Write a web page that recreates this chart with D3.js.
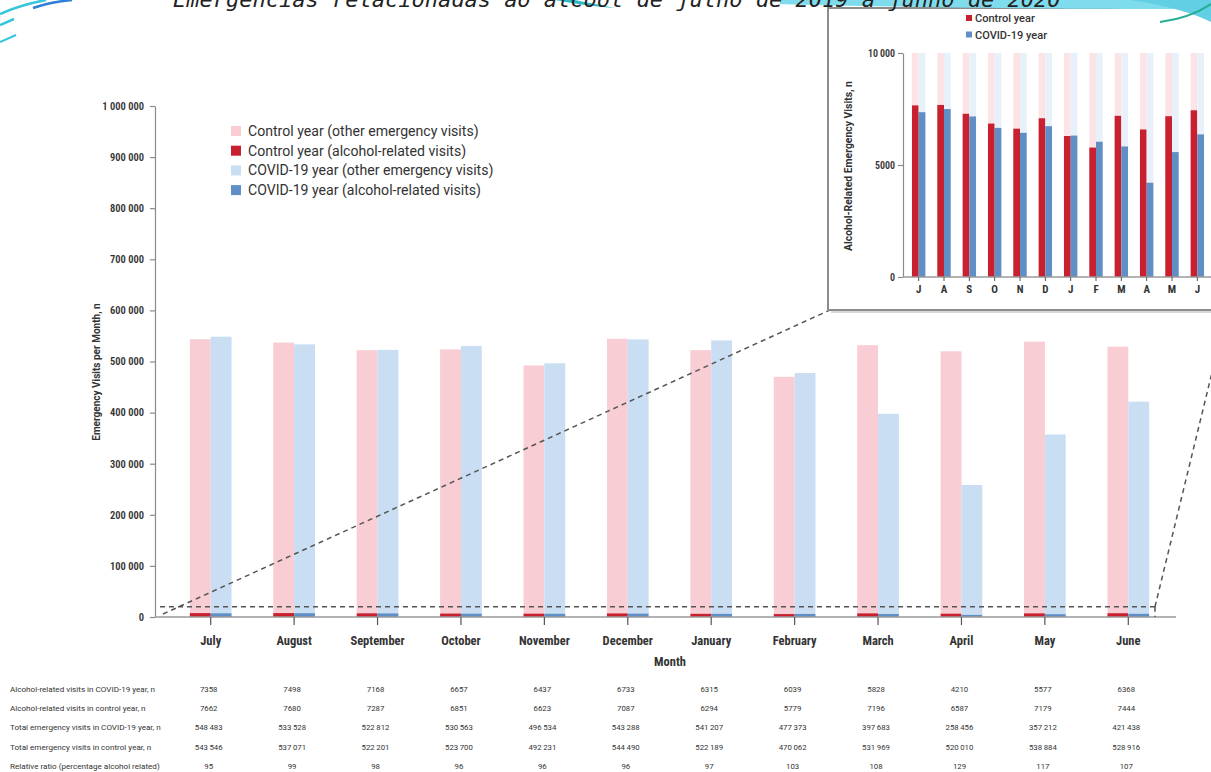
<!DOCTYPE html>
<html>
<head>
<meta charset="utf-8">
<script src="https://cdn.jsdelivr.net/npm/d3@7"></script>
<style>
  html, body { margin: 0; padding: 0; background: #fff; }
  svg { display: block; }
  .axis text { fill: #333; }
</style>
</head>
<body>
<svg width="1211" height="772"></svg>
<script>
// data
const months = ["July", "August", "September", "October", "November", "December",
    "January", "February", "March", "April", "May", "June"];
const monthLetters = ["J", "A", "S", "O", "N", "D", "J", "F", "M", "A", "M", "J"];

const alcoholCovid = [7358, 7498, 7168, 6657, 6437, 6733, 6315, 6039, 5828, 4210, 5577, 6368];
const alcoholControl = [7662, 7680, 7287, 6851, 6623, 7087, 6294, 5779, 7196, 6587, 7179, 7444];
const totalCovid = [548483, 533528, 522812, 530563, 496534, 543288, 541207, 477373, 397683, 258456, 357212, 421438];
const totalControl = [543546, 537071, 522201, 523700, 492231, 544490, 522189, 470062, 531969, 520010, 538884, 528916];
const relativeRatio = [95, 99, 98, 96, 96, 96, 97, 103, 108, 129, 117, 107];

const mainTicks = [0, 100000, 200000, 300000, 400000, 500000, 600000, 700000, 800000, 900000, 1000000];
const insetTicks = [0, 5000, 10000];

const legendItems = [
    { label: "Control year (other emergency visits)", color: "#f8cdd3" },
    { label: "Control year (alcohol-related visits)", color: "#c8202f" },
    { label: "COVID-19 year (other emergency visits)", color: "#c9def2" },
    { label: "COVID-19 year (alcohol-related visits)", color: "#5f8fc4" }
];
const tableRows = [
    { label: "Alcohol-related visits in COVID-19 year, n", values: alcoholCovid },
    { label: "Alcohol-related visits in control year, n", values: alcoholControl },
    { label: "Total emergency visits in COVID-19 year, n", values: totalCovid },
    { label: "Total emergency visits in control year, n", values: totalControl },
    { label: "Relative ratio (percentage alcohol related)", values: relativeRatio }
];

const colors = {
    controlOther: "#f8cdd3", controlAlc: "#c8202f",
    covidOther: "#c9def2", covidAlc: "#5f8fc4",
    insetControlOther: "#fbe3e6", insetCovidOther: "#e8f1fa"
};

const spaced = d3.formatLocale({ decimal: ".", thousands: "\u2009", grouping: [3], currency: ["", ""] }).format(",");
const fmt = v => v >= 10000 ? spaced(v) : String(v);
const axisFmt = d3.formatLocale({ decimal: ".", thousands: " ", grouping: [3], currency: ["", ""] }).format(",");

const svg = d3.select("svg");
const font = "'Liberation Sans Narrow', 'Roboto Condensed', Roboto, sans-serif";

// ---- slide decoration + title ----
const deco = svg.append("g");
deco.append("path").attr("d", "M0,14 Q20,5 46,0").attr("fill", "none").attr("stroke", "#35c6dc").attr("stroke-width", 2.5);
deco.append("path").attr("d", "M0,25 L14,19").attr("fill", "none").attr("stroke", "#35c6dc").attr("stroke-width", 2.5);
deco.append("path").attr("d", "M33,8 Q50,2 72,0").attr("fill", "none").attr("stroke", "#2f7fd6").attr("stroke-width", 2.5);
deco.append("path").attr("d", "M0,42 L16,35").attr("fill", "none").attr("stroke", "#35c6dc").attr("stroke-width", 2);
deco.append("path").attr("d", "M555,0 Q585,6 615,8 Q590,3 575,0 Z").attr("fill", "#2cb9c9");

const title = svg.append("text")
    .attr("x", 173).attr("y", 7)
    .style("font-family", "'DejaVu Sans Mono', monospace")
    .style("font-style", "italic")
    .style("font-size", "22px")
    .attr("fill", "#222")
    .text("Emergências relacionadas ao álcool de julho de 2019 a junho de 2020");

// ---- main chart ----
const y = d3.scaleLinear().domain([0, 1000000]).range([617, 106]);
const x = d3.scaleBand().domain(months).range([169, 1170]).paddingInner(0.5).paddingOuter(0.25);
const sub = d3.scaleBand().domain(["control", "covid"]).range([0, x.bandwidth()]);

const main = svg.append("g");

const barData = months.map((m, i) => ({
    month: m,
    control: { alc: alcoholControl[i], total: totalControl[i] },
    covid: { alc: alcoholCovid[i], total: totalCovid[i] }
}));

const groups = main.selectAll("g.month").data(barData).enter().append("g")
    .attr("class", "month")
    .attr("transform", d => `translate(${x(d.month)},0)`);

[["control", colors.controlOther, colors.controlAlc], ["covid", colors.covidOther, colors.covidAlc]]
    .forEach(([key, light, dark]) => {
        groups.append("rect")
            .attr("x", sub(key)).attr("width", sub.bandwidth())
            .attr("y", d => y(d[key].total))
            .attr("height", d => y(d[key].alc) - y(d[key].total))
            .attr("fill", light);
        groups.append("rect")
            .attr("x", sub(key)).attr("width", sub.bandwidth())
            .attr("y", d => y(d[key].alc))
            .attr("height", d => y(0) - y(d[key].alc))
            .attr("fill", dark);
    });

const yAxis = main.append("g").attr("class", "axis")
    .attr("transform", "translate(155,0)")
    .call(d3.axisLeft(y).tickValues(mainTicks).tickSize(5).tickSizeOuter(0).tickPadding(6)
        .tickFormat(v => axisFmt(v)));
yAxis.selectAll("path, line").attr("stroke", "#8a8a8a").attr("stroke-width", 1.2);
yAxis.selectAll("text").style("font-family", font).style("font-size", "10.5px").style("font-weight", "600");

main.append("line")
    .attr("x1", 155).attr("x2", 1176).attr("y1", y(0)).attr("y2", y(0))
    .attr("stroke", "#9a9a9a").attr("stroke-width", 1.6);

const xAxis = main.append("g").attr("class", "axis")
    .attr("transform", `translate(0,${y(0)})`)
    .call(d3.axisBottom(x).tickSize(8).tickSizeOuter(0).tickPadding(11));
xAxis.select(".domain").remove();
xAxis.selectAll("line").attr("stroke", "#555").attr("stroke-width", 1.2);
xAxis.selectAll("text").style("font-family", font).style("font-size", "12.5px").style("font-weight", "700");

main.append("text")
    .attr("x", 670).attr("y", 666).attr("text-anchor", "middle")
    .style("font-family", font).style("font-size", "12.5px").style("font-weight", "700")
    .attr("fill", "#333").text("Month");

main.append("text")
    .attr("transform", "translate(100,372) rotate(-90)")
    .attr("text-anchor", "middle")
    .style("font-family", "Roboto, sans-serif").style("font-size", "10px").style("font-weight", "700")
    .attr("fill", "#333").text("Emergency Visits per Month, n");

// legend
const legend = main.append("g").attr("transform", "translate(231,131)");
const li = legend.selectAll("g").data(legendItems).enter().append("g")
    .attr("transform", (d, i) => `translate(0,${i * 19.7})`);
li.append("rect").attr("x", 0).attr("y", -5).attr("width", 10).attr("height", 10).attr("fill", d => d.color);
li.append("text").attr("x", 17).attr("y", 5)
    .style("font-family", "Roboto, sans-serif").style("font-size", "14.1px")
    .attr("fill", "#333").text(d => d.label);

// zoom marker (dashed)
const dash = svg.append("g")
    .attr("fill", "none").attr("stroke", "#555").attr("stroke-width", 1.5).attr("stroke-dasharray", "5,4");
dash.append("line").attr("x1", 160).attr("x2", 1155).attr("y1", y(20000)).attr("y2", y(20000));
dash.append("line").attr("x1", 1155).attr("x2", 1155).attr("y1", y(20000)).attr("y2", y(0));
dash.append("line").attr("x1", 163).attr("y1", 614).attr("x2", 830).attr("y2", 310);
dash.append("line").attr("x1", 1155).attr("y1", y(20000)).attr("x2", 1217).attr("y2", 352);

// ---- table ----
const table = svg.append("g");
const rowsG = table.selectAll("g").data(tableRows).enter().append("g")
    .attr("transform", (d, i) => `translate(0,${692 + i * 19.2})`);
rowsG.append("text").attr("x", 10).attr("y", 0)
    .style("font-family", "Roboto, sans-serif").style("font-size", "8.1px")
    .attr("fill", "#333").text(d => d.label);
rowsG.selectAll("text.val").data(d => d.values).enter().append("text")
    .attr("class", "val")
    .attr("x", (v, i) => x(months[i]) + x.bandwidth() / 2 - 2)
    .attr("y", 0).attr("text-anchor", "middle")
    .style("font-family", "Roboto, sans-serif").style("font-size", "7.8px")
    .attr("fill", "#333").text(v => fmt(v));

// ---- inset ----
const inset = svg.append("g");
inset.append("rect").attr("x", 831).attr("y", 12).attr("width", 400).attr("height", 301).attr("fill", "#d8d8d8");
inset.append("rect")
    .attr("x", 828).attr("y", 8).attr("width", 400).attr("height", 302)
    .attr("fill", "#fff").attr("stroke", "#8c8c8c").attr("stroke-width", 2);

const xi = d3.scaleBand().domain(d3.range(12)).range([906, 1210]).paddingInner(0.47).paddingOuter(0.235);
const subi = d3.scaleBand().domain(["control", "covid"]).range([0, xi.bandwidth()]);
const yi = d3.scaleLinear().domain([0, 10000]).range([277, 53]);
const capTop = yi.domain()[1];

const ig = inset.selectAll("g.im").data(barData).enter().append("g")
    .attr("class", "im")
    .attr("transform", (d, i) => `translate(${xi(i)},0)`);
[["control", colors.insetControlOther, colors.controlAlc], ["covid", colors.insetCovidOther, colors.covidAlc]]
    .forEach(([key, light, dark]) => {
        ig.append("rect")
            .attr("x", subi(key)).attr("width", subi.bandwidth())
            .attr("y", d => yi(Math.min(d[key].total, capTop)))
            .attr("height", d => yi(d[key].alc) - yi(Math.min(d[key].total, capTop)))
            .attr("fill", light);
        ig.append("rect")
            .attr("x", subi(key)).attr("width", subi.bandwidth())
            .attr("y", d => yi(d[key].alc))
            .attr("height", d => yi(0) - yi(d[key].alc))
            .attr("fill", dark);
    });

const yiAxis = inset.append("g").attr("class", "axis")
    .attr("transform", "translate(903,0)")
    .call(d3.axisLeft(yi).tickValues(insetTicks).tickSize(5).tickSizeOuter(0).tickPadding(3).tickFormat(fmt));
yiAxis.selectAll("path, line").attr("stroke", "#8a8a8a").attr("stroke-width", 1.2);
yiAxis.selectAll("text").style("font-family", font).style("font-size", "10px").style("font-weight", "600");

inset.append("line")
    .attr("x1", 903).attr("x2", 1211).attr("y1", yi(0)).attr("y2", yi(0))
    .attr("stroke", "#9a9a9a").attr("stroke-width", 1.6);
const xiAxis = inset.append("g").attr("class", "axis")
    .attr("transform", `translate(0,${yi(0)})`)
    .call(d3.axisBottom(xi).tickSize(4).tickSizeOuter(0).tickPadding(4).tickFormat(i => monthLetters[i]));
xiAxis.select(".domain").remove();
xiAxis.selectAll("line").attr("stroke", "#555");
xiAxis.selectAll("text").style("font-family", font).style("font-size", "11px").style("font-weight", "700");

inset.append("text")
    .attr("transform", "translate(852,166) rotate(-90)")
    .attr("text-anchor", "middle")
    .style("font-family", "Roboto, sans-serif").style("font-size", "10.4px").style("font-weight", "700")
    .attr("fill", "#333").text("Alcohol-Related Emergency Visits, n");

const ilegend = inset.append("g").attr("transform", "translate(966,18)");
const ili = ilegend.selectAll("g").data([
    { label: "Control year", color: colors.controlAlc },
    { label: "COVID-19 year", color: colors.covidAlc }
]).enter().append("g").attr("transform", (d, i) => `translate(0,${i * 16.5})`);
ili.append("rect").attr("x", 0).attr("y", -3).attr("width", 6).attr("height", 6).attr("fill", d => d.color);
ili.append("text").attr("x", 9).attr("y", 4)
    .style("font-family", "Roboto, sans-serif").style("font-size", "11px").style("font-weight", "500")
    .attr("fill", "#333").text(d => d.label);

// top-right swoosh drawn over the inset frame
deco.raise();
deco.append("path").attr("d", "M780,0 L1211,0 L1211,9 C1100,9 900,8 780,4 Z").attr("fill", "#7fdced");
deco.append("path").attr("d", "M1130,0 C1170,6 1195,14 1211,22 L1211,0 Z").attr("fill", "#62cfe4");
deco.append("path").attr("d", "M1160,22 Q1190,18 1211,4").attr("fill", "none").attr("stroke", "#1fae92").attr("stroke-width", 2);
title.raise();
</script>
</body>
</html>
